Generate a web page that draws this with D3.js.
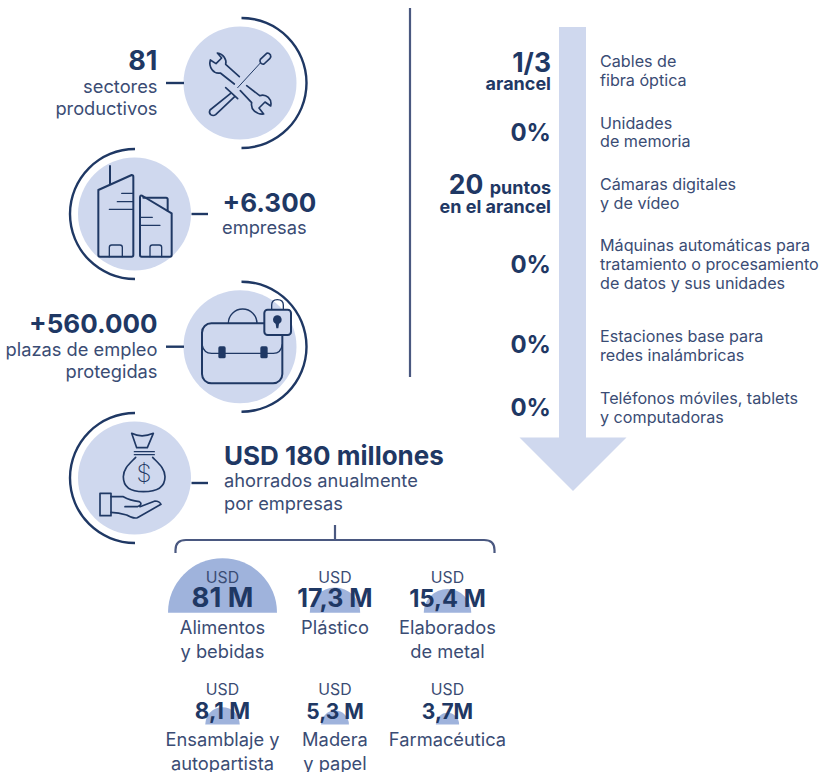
<!DOCTYPE html>
<html>
<head>
<meta charset="utf-8">
<script src="https://cdn.jsdelivr.net/npm/d3@7"></script>
<style>
  html, body { margin: 0; padding: 0; background: #fff; }
  text { font-family: Inter, "Noto Sans", sans-serif; }
</style>
</head>
<body>
<div id="vis_container"></div>
<script>
// values
var statValues = ["81", "+6.300", "+560.000", "USD 180 millones"];
var statLabels = [
  ["sectores", "productivos"],
  ["empresas"],
  ["plazas de empleo", "protegidas"],
  ["ahorrados anualmente", "por empresas"]
];

var tariffValues = [["1/3", "arancel"], ["0%"], ["20", "puntos", "en el arancel"], ["0%"], ["0%"], ["0%"]];
var tariffLabels = [
  ["Cables de", "fibra óptica"],
  ["Unidades", "de memoria"],
  ["Cámaras digitales", "y de vídeo"],
  ["Máquinas automáticas para", "tratamiento o procesamiento", "de datos y sus unidades"],
  ["Estaciones base para", "redes inalámbricas"],
  ["Teléfonos móviles, tablets", "y computadoras"]
];

var sectorNames = [
  ["Alimentos", "y bebidas"],
  ["Plástico"],
  ["Elaborados", "de metal"],
  ["Ensamblaje y", "autopartista"],
  ["Madera", "y papel"],
  ["Farmacéutica"]
];
var sectorValues = [81, 17.3, 15.4, 8.1, 5.3, 3.7];
var sectorText = ["81 M", "17,3 M", "15,4 M", "8,1 M", "5,3 M", "3,7M"];

var navy = "#1f3864", ink = "#3a4c74", pale = "#cfd8ee", mid = "#9fb3dc", rule = "#4a5880";

var svg = d3.select("#vis_container").append("svg")
  .attr("width", 821)
  .attr("height", 772)
  .style("display", "block");

function lines(g, x, list, anchor, size, weight, fill) {
  // list is [[string, baseline], ...]
  list.forEach(function(l) {
    g.append("text")
      .attr("x", x)
      .attr("y", l[1])
      .attr("text-anchor", anchor)
      .attr("font-size", size)
      .attr("font-weight", weight)
      .attr("fill", fill)
      .text(l[0]);
  });
}

// ---- left column: circles with half rings
var centers = [[240, 83], [134.5, 214], [240, 346.7], [134.5, 478]];
var ring = d3.arc().innerRadius(63.8).outerRadius(66.2);

centers.forEach(function(c, i) {
  var right = i % 2 == 0;
  svg.append("circle").attr("cx", c[0]).attr("cy", c[1]).attr("r", 56.5).attr("fill", pale);
  svg.append("path")
    .attr("transform", "translate(" + (c[0] + (right ? 1.5 : 0.5)) + "," + c[1] + ")")
    .attr("d", ring({startAngle: right ? 0 : Math.PI, endAngle: right ? Math.PI : 2 * Math.PI}))
    .attr("fill", navy);
});

var connectors = [[166, 184, 83], [191.5, 208, 214], [166, 184, 346.7], [191.5, 208, 483]];
connectors.forEach(function(c) {
  svg.append("line").attr("x1", c[0]).attr("x2", c[1]).attr("y1", c[2]).attr("y2", c[2])
    .attr("stroke", navy).attr("stroke-width", 2.4);
});

// ---- icons, sketched in 3x pixels of their crop
function icon(x, y) {
  return svg.append("g")
    .attr("transform", "translate(" + x + "," + y + ") scale(" + (1 / 3) + ")")
    .attr("fill", "none")
    .attr("stroke", navy)
    .attr("stroke-width", 6)
    .attr("stroke-linejoin", "round")
    .attr("stroke-linecap", "round");
}

// tools
var tools = icon(195, 40);
tools.attr("stroke-width", 5);
tools.append("path").attr("d", "M133,110 L92,73 C96,58 85,42 67,39 L80,54 L63,71 L46,60 C40,82 56,103 76,99 L118,132");
tools.append("path").attr("d", "M155,137 L194,167 C214,160 232,178 227,198 L210,186 L192,204 L206,222 C184,224 166,208 170,188 L136,152");
tools.append("path").attr("stroke-width", 3).attr("d", "M196,69 L128,143");
tools.append("path").attr("d", "M196,58 L215,40 Q221,38 226,44 Q229,50 225,55 L207,72 Q202,74 197,69 Q193,63 196,58 Z");
tools.append("path").attr("d", "M92,143 L128,176");
tools.append("path").attr("d", "M107,160 L45,210 Q41,218 47,224 Q55,229 62,224 L119,170");

// buildings
var build = icon(90, 160);
build.append("path").attr("d", "M25,90 L125,45 Q130,45 130,50 L130,285 Q130,290 125,290 L30,290 Q25,290 25,285 Z");
build.append("path").attr("d", "M60,18 L60,72");
build.append("path").attr("stroke-width", 4).attr("d", "M95,100 L130,100 M82,125 L130,125 M58,148 L130,148");
build.append("path").attr("stroke-width", 4).attr("d", "M58,290 L58,262 Q58,255 65,255 L90,255 Q97,255 97,262 L97,290");
build.append("path").attr("d", "M150,112 Q150,104 158,108 L245,160 L245,285 Q245,290 240,290 L155,290 Q150,290 150,285 Z");
build.append("path").attr("d", "M160,113 L228,113 Q233,113 233,118 L233,152");
build.append("path").attr("stroke-width", 4).attr("d", "M150,172 L187,172 M150,196 L210,196");
build.append("path").attr("stroke-width", 4).attr("d", "M180,290 L180,262 Q180,255 187,255 L208,255 Q215,255 215,262 L215,290");

// briefcase with lock
var brief = icon(195, 295);
brief.append("path").attr("stroke-width", 4).attr("d", "M100,85 A43,43 0 0 1 186,85");
brief.append("rect").attr("x", 21).attr("y", 85).attr("width", 241).attr("height", 180).attr("rx", 28);
brief.append("path").attr("stroke-width", 4).attr("d", "M21,148 Q26,175 50,175 L235,175 Q258,175 262,148");
[70, 196].forEach(function(x) {
  brief.append("rect").attr("x", x).attr("y", 154).attr("width", 22).attr("height", 36).attr("rx", 5)
    .attr("fill", navy).attr("stroke", "none");
});
brief.append("path").attr("stroke-width", 4).attr("d", "M230,44 L230,30 Q230,14 247,14 Q265,14 265,30 L265,44");
brief.append("rect").attr("x", 208).attr("y", 44).attr("width", 80).attr("height", 76).attr("rx", 10).attr("fill", pale);
brief.append("circle").attr("cx", 247).attr("cy", 74).attr("r", 13).attr("fill", navy).attr("stroke", "none");
brief.append("path").attr("fill", navy).attr("stroke", "none").attr("d", "M241,80 L244,100 L250,100 L253,80 Z");

// money bag and hand
var money = icon(90, 425);
money.append("path").attr("stroke-width", 5).attr("d", "M125,25 Q155,40 190,25 L172,68 L140,68 Z");
money.append("path").attr("stroke-width", 4).attr("d", "M133,80 L193,80 M133,89 L193,89");
money.append("path").attr("stroke-width", 5).attr("d", "M137,97 C120,115 100,130 100,155 C100,190 130,200 160,200 C195,200 225,190 225,155 C225,130 205,115 188,97");
money.append("text").attr("x", 162).attr("y", 172).attr("text-anchor", "middle")
  .attr("font-size", 72).attr("font-weight", 200).attr("fill", navy).attr("stroke", "none").text("$");
money.append("rect").attr("stroke-width", 5).attr("x", 30).attr("y", 205).attr("width", 33).attr("height", 67);
money.append("path").attr("stroke-width", 5).attr("d", "M63,215 L100,215 Q120,226 148,230 Q160,238 142,245 L105,245 M150,245 L195,228 Q208,228 213,238 L142,278 Q130,282 110,270 Q85,262 63,262");

// ---- left column texts
var labelSize = 18.3;
lines(svg, 157.5, [[statValues[0], 69.5]], "end", 27, 700, navy);
lines(svg, 157.5, [[statLabels[0][0], 92.5], [statLabels[0][1], 114.5]], "end", labelSize, 400, ink);
lines(svg, 222.5, [[statValues[1], 211.5]], "start", 26, 700, navy);
lines(svg, 222, [[statLabels[1][0], 234]], "start", labelSize, 400, ink);
lines(svg, 157.5, [[statValues[2], 332.5]], "end", 26, 700, navy);
lines(svg, 157.5, [[statLabels[2][0], 356], [statLabels[2][1], 378]], "end", labelSize, 400, ink);
lines(svg, 224, [[statValues[3], 464.5]], "start", 26, 700, navy);
lines(svg, 224, [[statLabels[3][0], 487], [statLabels[3][1], 509.5]], "start", labelSize, 400, ink);

// divider
svg.append("line").attr("x1", 410).attr("x2", 410).attr("y1", 8).attr("y2", 377)
  .attr("stroke", rule).attr("stroke-width", 2.2);

// ---- big arrow
var arrow = d3.path();
arrow.moveTo(559, 27);
arrow.lineTo(586, 27);
arrow.lineTo(586, 437.5);
arrow.lineTo(626.5, 437.5);
arrow.lineTo(573, 491);
arrow.lineTo(519.5, 437.5);
arrow.lineTo(559, 437.5);
arrow.closePath();
svg.append("path").attr("d", arrow.toString()).attr("fill", pale);

// ---- tariff column
var tariffRight = 551;
var numberBase = [71.5, 140.5, 194, 272.5, 353, 416];
var labelBase = [67, 128.5, 190, 251, 342, 403.5];
var labelGap = [19, 18.5, 19, 19, 18.5, 19];

tariffValues.forEach(function(v, i) {
  if (v.length == 1) {
    lines(svg, tariffRight, [[v[0], numberBase[i]]], "end", 24, 700, navy);
  } else if (v.length == 2) {
    lines(svg, tariffRight, [[v[0], numberBase[i]]], "end", 26.5, 700, navy);
    lines(svg, tariffRight, [[v[1], numberBase[i] + 18.5]], "end", 18, 700, navy);
  } else {
    var t = svg.append("text").attr("x", tariffRight).attr("y", numberBase[i])
      .attr("text-anchor", "end").attr("fill", navy).attr("font-weight", 700);
    t.append("tspan").attr("font-size", 26.5).text(v[0] + " ");
    t.append("tspan").attr("font-size", 18).text(v[1]);
    lines(svg, tariffRight, [[v[2], numberBase[i] + 19]], "end", 18, 700, navy);
  }
});

tariffLabels.forEach(function(ls, i) {
  lines(svg, 600, ls.map(function(s, k) { return [s, labelBase[i] + k * labelGap[i]]; }), "start", 16.15, 400, ink);
});

// ---- bracket
svg.append("path")
  .attr("d", "M175.5,553 L175.5,550 Q175.5,540 186,540 L484,540 Q494.5,540 494.5,550 L494.5,553 M335,540 L335,525")
  .attr("fill", "none").attr("stroke", rule).attr("stroke-width", 2.2);

// ---- sector half circles, area proportional to value
var r = d3.scaleSqrt().domain([0, 81]).range([0, 54.5]);
var columnX = d3.scalePoint().domain([0, 1, 2]).range([222.5, 447.5]);
var rowBase = d3.scalePoint().domain([0, 1]).range([612.7, 724.5]);
var half = d3.arc().innerRadius(0).startAngle(-Math.PI / 2).endAngle(Math.PI / 2);
var valueSize = [27.5, 25, 23.7, 22.4, 21, 21];
var valueBase = [607, 607, 607, 719, 719, 719];

sectorValues.forEach(function(v, i) {
  var cx = columnX(i % 3), row = Math.floor(i / 3), base = rowBase(row);
  svg.append("path")
    .attr("transform", "translate(" + cx + "," + base + ")")
    .attr("d", half({outerRadius: r(v)}))
    .attr("fill", mid);
  lines(svg, cx, [["USD", base - 30]], "middle", 15.8, 400, ink);
  lines(svg, cx, [[sectorText[i], valueBase[i]]], "middle", valueSize[i], 700, navy);
  lines(svg, cx, sectorNames[i].map(function(s, k) { return [s, base + 21 + k * 24.5]; }), "middle", labelSize, 400, ink);
});
</script>
</body>
</html>
